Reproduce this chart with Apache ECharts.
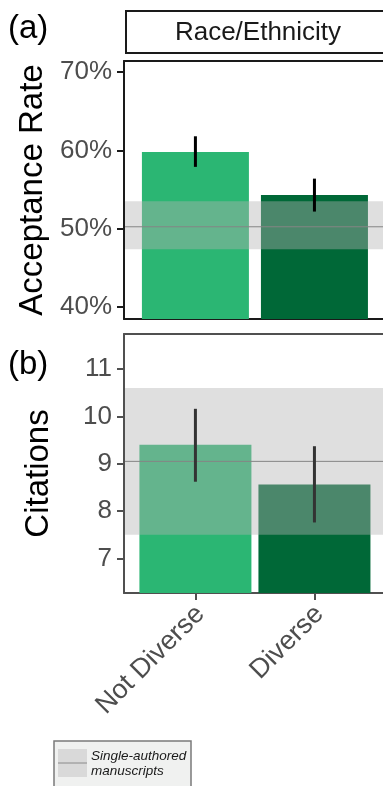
<!DOCTYPE html>
<html><head><meta charset="utf-8">
<script src="https://cdn.jsdelivr.net/npm/echarts@6/dist/echarts.min.js"></script>
<style>html,body{margin:0;padding:0;background:#fff;overflow:hidden}#c{width:383px;height:786px}</style>
</head><body><div id="c"></div>
<script>
// ---- data ----
const categories = ['Not Diverse', 'Diverse'];
const catPos = [1, 2];
const acceptRate = [59.8, 54.3];
const acceptLow = [57.9, 52.2];
const acceptHigh = [61.8, 56.4];
const citations = [9.40, 8.56];
const citeLow = [8.62, 7.76];
const citeHigh = [10.16, 9.37];
const singleAccept = [47.4, 53.5, 50.26];   // low, high, mean
const singleCite = [7.5, 10.6, 9.05];       // low, high, mean
const accTicks = [40, 50, 60, 70];
const citeTicks = [7, 8, 9, 10, 11];
const panelLabels = ['(a)', '(b)'];
const stripTitle = 'Race/Ethnicity';
const yTitles = ['Acceptance Rate', 'Citations'];
const legendLines = ['Single-authored', 'manuscripts'];
const barColors = ['#2bb673', '#006837'];

const FONT = "'Liberation Sans', Arial, Helvetica, sans-serif";
const chart = echarts.init(document.getElementById('c'), null, {renderer: 'canvas'});

function barData(vals) {
  return vals.map((v, i) => ({value: [catPos[i], v], itemStyle: {color: barColors[i]}}));
}
function errData(lo, hi) {
  return lo.map((l, i) => [catPos[i], l, hi[i]]);
}
function errSeries(xi, yi, lo, hi, color) {
  return {
    type: 'custom', xAxisIndex: xi, yAxisIndex: yi, z: 5, silent: true,
    data: errData(lo, hi),
    encode: {x: 0, y: [1, 2]},
    renderItem: function (params, api) {
      const p1 = api.coord([api.value(0), api.value(1)]);
      const p2 = api.coord([api.value(0), api.value(2)]);
      return {type: 'line', shape: {x1: p1[0], y1: p1[1], x2: p2[0], y2: p2[1]},
              style: {stroke: color, lineWidth: 3}};
    }
  };
}
function bandSeries(xi, yi, band) {
  return {
    type: 'custom', xAxisIndex: xi, yAxisIndex: yi, z: 4, silent: true,
    data: [[1.5, band[0], band[1], band[2]]],
    encode: {x: 0, y: [1, 2]},
    renderItem: function (params, api) {
      const cs = params.coordSys;
      const yl = api.coord([1.5, api.value(1)])[1];
      const yh = api.coord([1.5, api.value(2)])[1];
      const ym = api.coord([1.5, api.value(3)])[1];
      return {type: 'group', children: [
        {type: 'rect', shape: {x: cs.x + 1, y: yh, width: cs.width, height: yl - yh},
         style: {fill: 'rgba(178,178,178,0.42)'}},
        {type: 'line', shape: {x1: cs.x + 1, y1: ym, x2: cs.x + cs.width, y2: ym},
         style: {stroke: '#858585', lineWidth: 1}}
      ]};
    }
  };
}

const grids = [
  {left: 124, width: 269, top: 61, height: 258, show: false, containLabel: false, outerBoundsMode: 'none'},
  {left: 124, width: 269, top: 334, height: 259, show: false, containLabel: false, outerBoundsMode: 'none'}
];

const X_MIN = 0.4, X_MAX = 2.66;
const TOP_C = '#1a1a1a', BOT_C = '#505050';
function frameAxis(gi, pos, color) {
  return {gridIndex: gi, type: 'value', position: pos, min: X_MIN, max: X_MAX,
    axisLine: {show: true, onZero: false, lineStyle: {color: color, width: 2}},
    axisTick: {show: false}, axisLabel: {show: false}, splitLine: {show: false}};
}
const xAxes = [
  frameAxis(0, 'bottom', TOP_C),
  frameAxis(0, 'top', TOP_C),
  {gridIndex: 1, type: 'value', position: 'bottom', min: X_MIN, max: X_MAX,
   axisLine: {show: true, onZero: false, lineStyle: {color: BOT_C, width: 2}},
   axisTick: {show: true, customValues: catPos, length: 7, lineStyle: {color: BOT_C, width: 2}},
   axisLabel: {show: true, customValues: catPos, rotate: 45, margin: 12, fontSize: 27, fontFamily: FONT,
     color: '#4d4d4d', verticalAlign: 'top', lineHeight: 14, formatter: v => categories[catPos.indexOf(v)]},
   splitLine: {show: false}},
  frameAxis(1, 'top', BOT_C)
];

const yAxes = [
  {gridIndex: 0, type: 'value', min: 38.5, max: 71.4,
   axisLine: {show: true, onZero: false, lineStyle: {color: TOP_C, width: 2}},
   axisTick: {show: true, customValues: accTicks, length: 7, lineStyle: {color: TOP_C, width: 2}},
   axisLabel: {customValues: accTicks, formatter: v => v + '%', fontSize: 26, fontFamily: FONT, color: '#4d4d4d', margin: 12},
   splitLine: {show: false},
   name: yTitles[0], nameLocation: 'middle', nameGap: 69,
   nameTextStyle: {fontSize: 33, fontFamily: FONT, color: '#000'}},
  {gridIndex: 1, type: 'value', min: 6.27, max: 11.74,
   axisLine: {show: true, onZero: false, lineStyle: {color: BOT_C, width: 2}},
   axisTick: {show: true, customValues: citeTicks, length: 7, lineStyle: {color: BOT_C, width: 2}},
   axisLabel: {customValues: citeTicks, fontSize: 26, fontFamily: FONT, color: '#4d4d4d', margin: 12},
   splitLine: {show: false},
   name: yTitles[1], nameLocation: 'middle', nameGap: 69,
   nameTextStyle: {fontSize: 33, fontFamily: FONT, color: '#000', padding: [0, 20, 0, 0]}}
];

const series = [
  {type: 'bar', xAxisIndex: 0, yAxisIndex: 0, barWidth: 107, z: 2, data: barData(acceptRate), silent: true},
  bandSeries(0, 0, singleAccept),
  errSeries(0, 0, acceptLow, acceptHigh, '#000'),
  {type: 'bar', xAxisIndex: 2, yAxisIndex: 1, barWidth: 112, z: 2, data: barData(citations), silent: true},
  bandSeries(2, 1, singleCite),
  errSeries(2, 1, citeLow, citeHigh, '#333')
];

const graphic = [
  // facet strip (open at the right, like the cropped original)
  {type: 'polyline', shape: {points: [[400, 11], [126, 11], [126, 53], [400, 53]]},
   style: {fill: null, stroke: '#1a1a1a', lineWidth: 2}},
  {type: 'text', x: 258, y: 33, style: {text: stripTitle, fontSize: 26, fontFamily: FONT, fill: '#1a1a1a', align: 'center', verticalAlign: 'middle'}},
  {type: 'text', x: 8, y: 29, style: {text: panelLabels[0], fontSize: 33, fontFamily: FONT, fill: '#000', align: 'left', verticalAlign: 'middle'}},
  {type: 'text', x: 8, y: 365, style: {text: panelLabels[1], fontSize: 33, fontFamily: FONT, fill: '#000', align: 'left', verticalAlign: 'middle'}},
  // legend (box runs past the bottom edge)
  {type: 'rect', shape: {x: 54, y: 741, width: 137, height: 60}, style: {fill: '#f0f1f0'}},
  {type: 'polyline', shape: {points: [[54, 800], [54, 741], [191, 741], [191, 800]]},
   style: {fill: null, stroke: '#7a7a7a', lineWidth: 1.5}},
  {type: 'rect', shape: {x: 58, y: 749, width: 29, height: 28}, style: {fill: '#d9d9d9'}},
  {type: 'line', shape: {x1: 58, y1: 763, x2: 87, y2: 763}, style: {stroke: '#8a8a8a', lineWidth: 1}},
  {type: 'text', x: 91, y: 756.5, style: {text: legendLines[0], fontSize: 13.5, fontStyle: 'italic', fontFamily: FONT, fill: '#1a1a1a', verticalAlign: 'middle'}},
  {type: 'text', x: 91, y: 771.5, style: {text: legendLines[1], fontSize: 13.5, fontStyle: 'italic', fontFamily: FONT, fill: '#1a1a1a', verticalAlign: 'middle'}}
];

chart.setOption({
  animation: false,
  backgroundColor: '#fff',
  grid: grids, xAxis: xAxes, yAxis: yAxes, series: series, graphic: graphic
});
</script></body></html>
